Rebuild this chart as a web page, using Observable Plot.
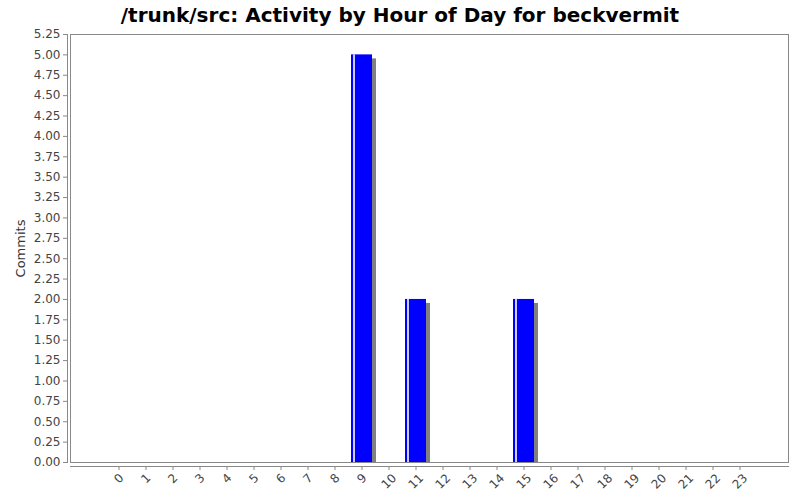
<!DOCTYPE html>
<html>
<head>
<meta charset="utf-8">
<script src="https://cdn.jsdelivr.net/npm/d3@7"></script>
<script src="https://cdn.jsdelivr.net/npm/@observablehq/plot@0.6"></script>
<style>
  html, body { margin: 0; padding: 0; background: #fff; }
  #title { height: 28px; line-height: 30px; text-align: center; font-family: "DejaVu Sans", sans-serif; font-weight: bold; font-size: 20px; color: #000; }
  #chart svg { display: block; }
</style>
</head>
<body>
<div id="title">/trunk/src: Activity by Hour of Day for beckvermit</div>
<div id="chart"></div>
<script>
const hours = ["0","1","2","3","4","5","6","7","8","9","10","11","12","13","14","15","16","17","18","19","20","21","22","23"];
const commits = [0,0,0,0,0,0,0,0,0,5,0,2,0,0,0,2,0,0,0,0,0,0,0,0];
const yTicks = d3.range(0, 22).map(i => i * 0.25);

const data = hours.map((h, i) => ({hour: h, commits: commits[i]}));
const nonzero = data.filter(d => d.commits > 0);
const shortLabels = hours.filter(h => h.length === 1);
const longLabels = hours.filter(h => h.length > 1);

const chart = Plot.plot({
  width: 800,
  height: 472,
  marginTop: 6,
  marginBottom: 38,
  marginLeft: 70,
  marginRight: 12,
  style: {fontFamily: "DejaVu Sans, sans-serif", fontSize: "12px", background: "#fff"},
  x: {type: "band", domain: hours, paddingInner: 0.226, paddingOuter: 1.345},
  y: {domain: [0, 5.25]},
  marks: [
    Plot.barY(nonzero, {x: "hour", y: "commits", fill: "#808080", dx: 4, dy: 4, clip: "frame"}),
    Plot.barY(nonzero, {x: "hour", y: "commits", fill: "#0000ff"}),
    Plot.barY(nonzero, {x: "hour", y: "commits", fill: "#ffffff", fillOpacity: 0.8, insetLeft: 2, insetRight: 17}),
    Plot.frame({stroke: "#888"}),
    Plot.frame({anchor: "left", stroke: "#888", dx: -3}),
    Plot.frame({anchor: "bottom", stroke: "#888", dy: 4}),
    Plot.axisY({ticks: yTicks, tickFormat: d3.format(".2f"), tickSize: 4, tickPadding: 3, dx: -3, stroke: "#888", color: "#444", fontSize: 12, label: null}),
    Plot.axisX({tickSize: 4, dy: 4, stroke: "#888", tickFormat: () => "", label: null}),
    Plot.text(shortLabels, {x: d => d, frameAnchor: "bottom", dy: 16, rotate: -45, textAnchor: "middle", lineAnchor: "middle", fill: "#444", fontSize: 12, text: d => d}),
    Plot.text(longLabels, {x: d => d, frameAnchor: "bottom", dy: 19, rotate: -45, textAnchor: "middle", lineAnchor: "middle", fill: "#444", fontSize: 12, text: d => d}),
    Plot.text(["Commits"], {frameAnchor: "left", dx: -50, rotate: -90, textAnchor: "middle", lineAnchor: "middle", fontSize: 13, fill: "#333", text: d => d})
  ]
});
document.getElementById("chart").appendChild(chart);
</script>
</body>
</html>
